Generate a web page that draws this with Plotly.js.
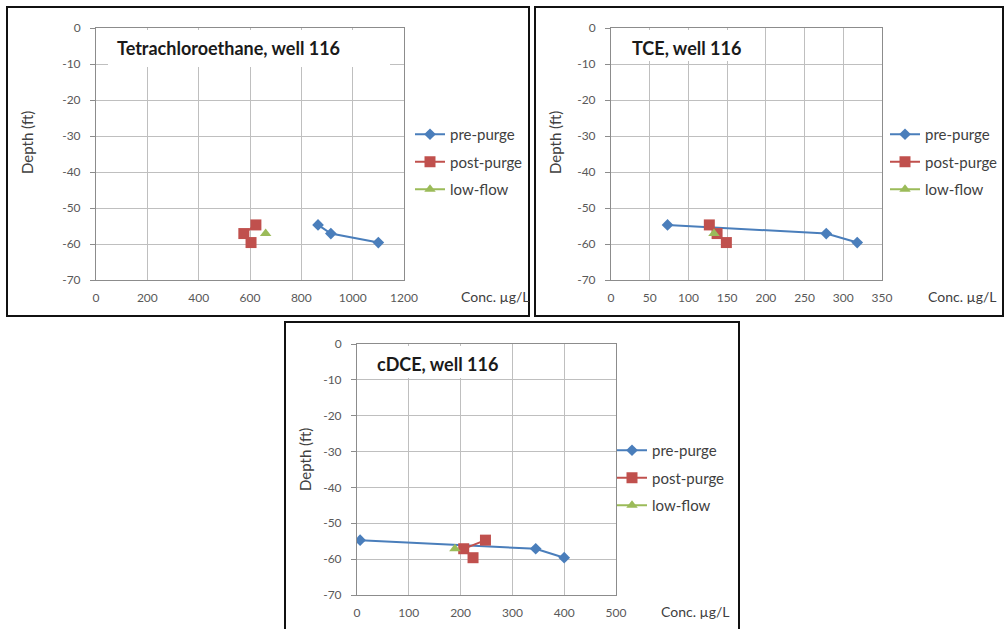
<!DOCTYPE html>
<html>
<head>
<meta charset="utf-8">
<script src="https://cdn.plot.ly/plotly-3.0.1.min.js"></script>
<style>html,body{margin:0;padding:0;background:#fff;}#chart{width:1005px;height:629px;}</style>
</head>
<body>
<div id="chart"></div>
<script>
// ---- data ----
var seriesNames = ["pre-purge", "post-purge", "low-flow"];
var depths = [-54.7, -57.1, -59.6];
var lowDepth = [-57.1];

var pcePre = [865, 915, 1100];
var pcePost = [623, 576, 604];
var pceLow = [661];

var tcePre = [73, 278, 318];
var tcePost = [127, 137, 149];
var tceLow = [133];

var dcePre = [6, 345, 400];
var dcePost = [248, 206, 224];
var dceLow = [189];

var panelTitles = ["Tetrachloroethane, well 116", "TCE, well 116", "cDCE, well 116"];
var yTicks = [0, -10, -20, -30, -40, -50, -60, -70];
var xTicks1 = [0, 200, 400, 600, 800, 1000, 1200];
var xTicks2 = [0, 50, 100, 150, 200, 250, 300, 350];
var xTicks3 = [0, 100, 200, 300, 400, 500];

// ---- layout helpers ----
var W = 1005, H = 629;
function px(x) { return x / W; }
function py(y) { return 1 - y / H; }

var FONT = "Lato, 'Open Sans', sans-serif";
var BLUE = "#4A7EBB", RED = "#C0504D", GREEN = "#9BBB59";
var GRID = "#bfbfbf", AXLINE = "#8c8c8c", TXT = "#595959";

function mkTraces(pre, post, low, xa, ya, lg) {
  return [
    {x: pre, y: depths, xaxis: xa, yaxis: ya, legend: lg, legendgroup: lg + "a", name: seriesNames[0],
     mode: "lines+markers", line: {color: BLUE, width: 2}, marker: {symbol: "diamond", size: 9, color: BLUE}},
    {x: post, y: depths, xaxis: xa, yaxis: ya, legend: lg, legendgroup: lg + "b", name: seriesNames[1],
     mode: "lines+markers", line: {color: RED, width: 2}, marker: {symbol: "square", size: 11, color: RED}},
    {x: low, y: lowDepth, xaxis: xa, yaxis: ya, legend: lg, legendgroup: lg + "c", name: seriesNames[2],
     mode: "lines+markers", line: {color: GREEN, width: 2}, marker: {symbol: "triangle-up", size: 10, color: GREEN}}
  ];
}

var data = []
  .concat(mkTraces(pcePre, pcePost, pceLow, "x", "y", "legend"))
  .concat(mkTraces(tcePre, tcePost, tceLow, "x2", "y2", "legend2"))
  .concat(mkTraces(dcePre, dcePost, dceLow, "x3", "y3", "legend3"));

function xAxis(dom, range, ticks, anchor) {
  return {domain: dom, range: range, tickvals: ticks, ticktext: ticks.map(String), anchor: anchor,
    showgrid: true, gridcolor: GRID, gridwidth: 1, zeroline: false,
    showline: true, linecolor: AXLINE, linewidth: 1, mirror: true,
    ticks: "", ticklabelstandoff: 7, tickfont: {family: FONT, size: 12, color: TXT}, fixedrange: true};
}
function yAxis(dom, anchor) {
  return {domain: dom, range: [-70, 0], tickvals: yTicks, ticktext: yTicks.map(String), anchor: anchor,
    showgrid: true, gridcolor: GRID, gridwidth: 1, zeroline: false,
    showline: true, linecolor: AXLINE, linewidth: 1, mirror: true,
    ticks: "outside", ticklen: 5, tickcolor: AXLINE, ticklabelstandoff: 7,
    tickfont: {family: FONT, size: 12, color: TXT}, fixedrange: true};
}

function legendAt(x, y) {
  return {x: px(x), y: py(y), xanchor: "left", yanchor: "top", xref: "paper", yref: "paper",
    bgcolor: "rgba(0,0,0,0)", borderwidth: 0, tracegroupgap: 5, traceorder: "grouped",
    font: {family: FONT, size: 15, color: "#404040"}};
}

var shapes = [
  // panel frames
  {type: "rect", xref: "paper", yref: "paper", x0: px(7), x1: px(529), y0: py(316), y1: py(7), line: {color: "#111", width: 2}},
  {type: "rect", xref: "paper", yref: "paper", x0: px(535), x1: px(1003), y0: py(316), y1: py(7), line: {color: "#111", width: 2}},
  {type: "rect", xref: "paper", yref: "paper", x0: px(285), x1: px(739), y0: py(640), y1: py(322), line: {color: "#111", width: 2}},
  // white title boxes
  {type: "rect", xref: "paper", yref: "paper", x0: px(108), x1: px(390), y0: py(67), y1: py(30), fillcolor: "#fff", line: {width: 0}, layer: "above"},
  {type: "rect", xref: "paper", yref: "paper", x0: px(613), x1: px(764), y0: py(61), y1: py(30), fillcolor: "#fff", line: {width: 0}, layer: "above"},
  {type: "rect", xref: "paper", yref: "paper", x0: px(359), x1: px(511), y0: py(378), y1: py(346), fillcolor: "#fff", line: {width: 0}, layer: "above"}
];

function ann(text, x, y, opts) {
  var a = {text: text, x: px(x), y: py(y), xref: "paper", yref: "paper", showarrow: false,
    xanchor: "left", yanchor: "middle", font: {family: FONT, size: 14, color: "#404040"}};
  for (var k in opts) a[k] = opts[k];
  return a;
}

var TFONT = {family: FONT, size: 18, color: "#1a1a1a"};
var DFONT = {family: FONT, size: 15, color: "#404040"};
var annotations = [
  ann("<b>" + panelTitles[0] + "</b>", 115, 48, {font: TFONT}),
  ann("<b>" + panelTitles[1] + "</b>", 630, 48, {font: TFONT}),
  ann("<b>" + panelTitles[2] + "</b>", 375, 364, {font: TFONT}),
  ann("Depth (ft)", 27, 143, {textangle: -90, xanchor: "center", font: DFONT}),
  ann("Depth (ft)", 555, 143, {textangle: -90, xanchor: "center", font: DFONT}),
  ann("Depth (ft)", 305, 460, {textangle: -90, xanchor: "center", font: DFONT}),
  ann("Conc. µg/L", 459, 296),
  ann("Conc. µg/L", 926, 296),
  ann("Conc. µg/L", 659, 611)
];

var layout = {
  width: W, height: H, margin: {l: 0, r: 0, t: 0, b: 0},
  paper_bgcolor: "#fff", plot_bgcolor: "#fff", showlegend: true,
  font: {family: FONT},
  xaxis: xAxis([px(96), px(404)], [0, 1200], xTicks1, "y"),
  yaxis: yAxis([py(280), py(28)], "x"),
  xaxis2: xAxis([px(611), px(882)], [0, 350], xTicks2, "y2"),
  yaxis2: yAxis([py(280), py(28)], "x2"),
  xaxis3: xAxis([px(357), px(616)], [0, 500], xTicks3, "y3"),
  yaxis3: yAxis([py(595), py(344)], "x3"),
  legend: legendAt(410, 118),
  legend2: legendAt(885, 118),
  legend3: legendAt(612, 434),
  shapes: shapes,
  annotations: annotations
};

Plotly.newPlot("chart", data, layout, {displayModeBar: false, staticPlot: true});
</script>
</body>
</html>
